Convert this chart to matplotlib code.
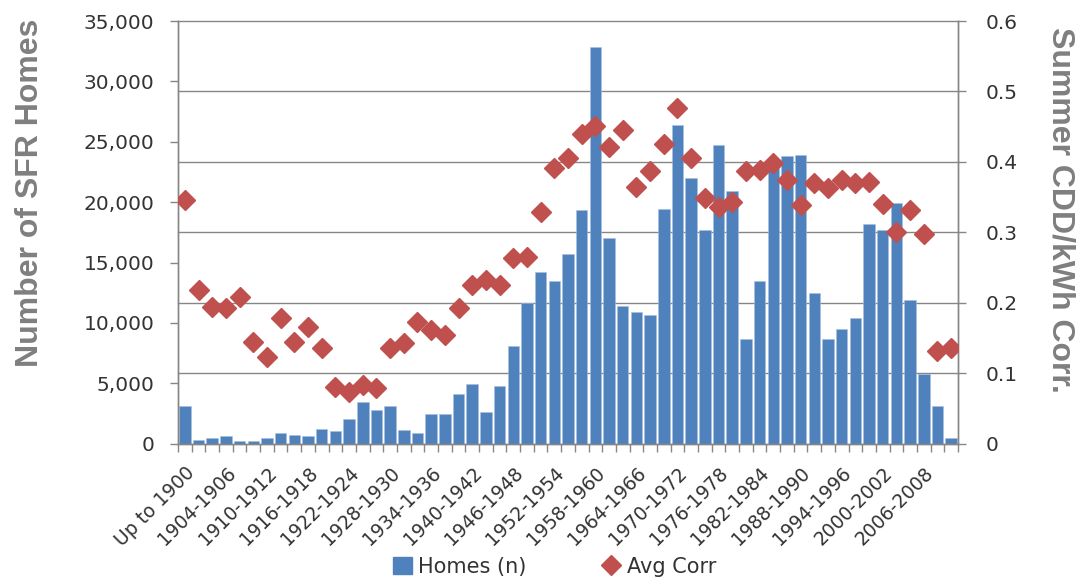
import matplotlib
matplotlib.use('Agg')
import matplotlib.pyplot as plt
from matplotlib.lines import Line2D
from matplotlib.patches import Patch
import numpy as np

# categories: "Up to 1900" then two-year ranges
categories = ['Up to 1900'] + ['%d-%d' % (y, y + 2) for y in range(1900, 2012, 2)]

homes = [3100, 300, 470, 600, 250, 250, 470, 910, 720, 600,
         1240, 1020, 2010, 3420, 2760, 3090, 1130, 910, 2450, 2450,
         4080, 4940, 2650, 4740, 8110, 11670, 14230, 13490, 15670, 19390,
         32850, 17070, 11420, 10870, 10650, 19470, 26370, 22010, 17730, 24740,
         20900, 8690, 13490, 23600, 23830, 23910, 12520, 8690, 9460, 10430,
         18200, 17680, 19970, 11860, 5790, 3090, 500]

avg_corr = [0.346, 0.218, 0.194, 0.192, 0.208, 0.145, 0.123, 0.179, 0.145, 0.166,
            0.136, 0.081, 0.073, 0.083, 0.079, 0.136, 0.143, 0.173, 0.161, 0.155,
            0.192, 0.225, 0.233, 0.225, 0.264, 0.265, 0.329, 0.391, 0.406, 0.439,
            0.451, 0.421, 0.446, 0.365, 0.387, 0.425, 0.477, 0.406, 0.349, 0.336,
            0.343, 0.387, 0.388, 0.399, 0.375, 0.339, 0.370, 0.363, 0.374, 0.370,
            0.372, 0.340, 0.301, 0.332, 0.298, 0.132, 0.136]

left_ticks = [0, 5000, 10000, 15000, 20000, 25000, 30000, 35000]
right_ticks = [0, 0.1, 0.2, 0.3, 0.4, 0.5, 0.6]

bar_color = '#4F81BD'
dot_color = '#C0504D'
axis_gray = '#868686'
text_color = '#333333'
title_gray = '#7F7F7F'

plt.rcParams['font.family'] = 'DejaVu Sans'

fig = plt.figure(figsize=(10.77, 5.82), dpi=100)
ax = fig.add_axes([0.1653, 0.2376, 0.7242, 0.7263])
ax2 = ax.twinx()

x = np.arange(len(categories))
lmax, rmax = 35000, 0.6

# gridlines follow the right-hand axis ticks, drawn behind the bars
for r in right_ticks[1:]:
    ax.axhline(r * lmax / rmax, color=axis_gray, lw=1.0, zorder=0, clip_on=False)

ax.bar(x, homes, width=0.84, color=bar_color, edgecolor='#A7C0DE', linewidth=0.4, zorder=2)
ax2.plot(x, avg_corr, linestyle='none', marker='D', ms=10, color=dot_color,
         markeredgecolor=dot_color, zorder=3)

ax.set_xlim(-0.5, len(categories) - 0.5)
ax.set_ylim(0, lmax)
ax2.set_ylim(0, rmax)

ax.set_yticks(left_ticks)
ax.set_yticklabels(['{:,}'.format(v) for v in left_ticks])
ax2.set_yticks(right_ticks)
ax2.set_yticklabels(['0' if v == 0 else '%g' % v for v in right_ticks])

# x labels every third category, tick marks between categories
ax.set_xticks(x[::3])
ax.set_xticklabels(categories[::3], rotation=45, ha='right', rotation_mode='anchor')
ax.set_xticks(np.arange(-0.5, len(categories), 1), minor=True)
ax.tick_params(axis='x', which='major', length=0, pad=14, labelsize=13.5, labelcolor=text_color)
ax.tick_params(axis='x', which='minor', length=6, width=1, color=axis_gray, direction='out')
ax.tick_params(axis='y', length=6, width=1, color=axis_gray, pad=11, labelsize=14.5,
               labelcolor=text_color)
ax2.tick_params(axis='y', length=6, width=1, color=axis_gray, pad=14, labelsize=14.5,
                labelcolor=text_color)

for a in (ax, ax2):
    a.spines['top'].set_visible(False)
    for s in ('left', 'right', 'bottom'):
        a.spines[s].set_color(axis_gray)
        a.spines[s].set_linewidth(1.0)

fig.text(0.028, 0.668, 'Number of SFR Homes', rotation=90, ha='center', va='center',
         fontsize=23, fontweight='bold', color=title_gray, family='Liberation Sans')
fig.text(0.985, 0.64, 'Summer CDD/kWh Corr.', rotation=270, ha='center', va='center',
         fontsize=23, fontweight='bold', color=title_gray, family='Liberation Sans')

handles = [Patch(facecolor=bar_color, edgecolor=bar_color),
           Line2D([], [], linestyle='none', marker='D', ms=10, color=dot_color)]
fig.legend(handles, ['Homes (n)', 'Avg Corr'], loc='center', bbox_to_anchor=(0.515, 0.026),
           ncol=2, frameon=False, fontsize=15, labelcolor=text_color,
           handlelength=0.9, handleheight=0.9, columnspacing=3.6, handletextpad=0.3)

fig.savefig('out.png', dpi=100)
